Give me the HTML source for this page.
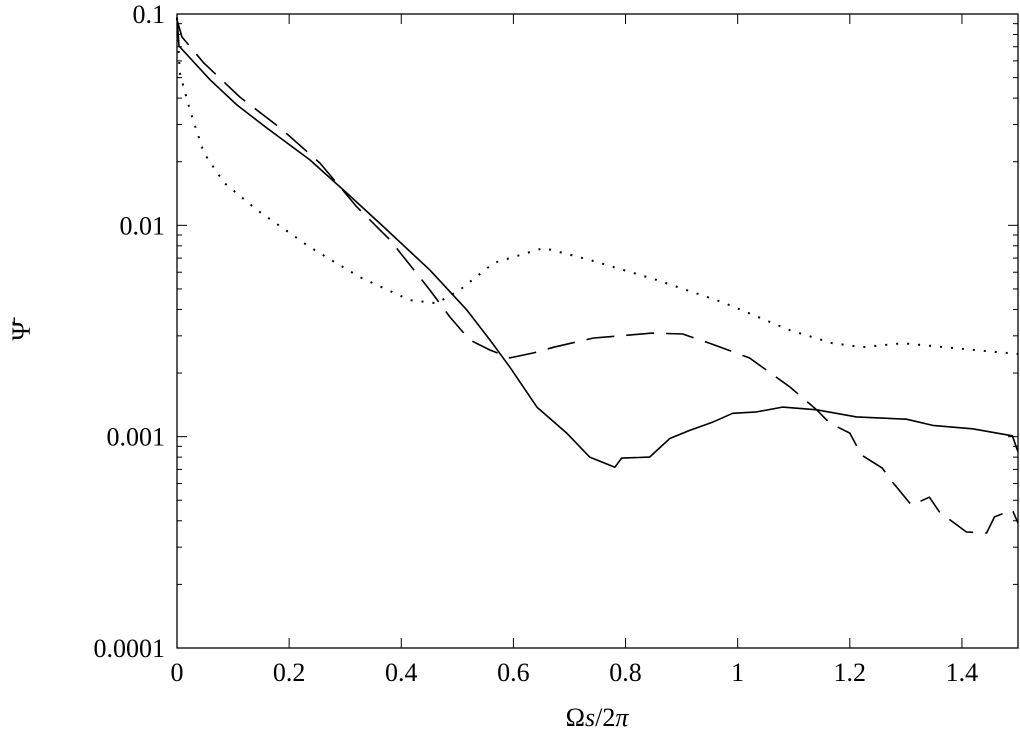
<!DOCTYPE html>
<html><head><meta charset="utf-8"><style>
body{margin:0;background:#fff;}
svg{display:block;font-family:"Liberation Serif",serif;}
</style></head><body>
<svg id="chart" width="1020" height="745" viewBox="0 0 1020 745">
<g id="axes"></g>
<g id="series"></g>
<text x="597" y="726" font-size="26" text-anchor="middle">Ω<tspan font-style="italic">s</tspan>/2<tspan font-style="italic">π</tspan></text>
<text transform="translate(30,331) rotate(-90)" font-size="26" text-anchor="middle">Ψ̄</text>
</svg>
<script>
const xTicks=[0,0.2,0.4,0.6,0.8,1,1.2,1.4];
const xTickLabels=["0","0.2","0.4","0.6","0.8","1","1.2","1.4"];
const yTicks=[0.1,0.01,0.001,0.0001];
const yTickLabels=["0.1","0.01","0.001","0.0001"];
const solidX=[0,0.0036,0.059,0.107,0.160,0.237,0.303,0.369,0.451,0.517,0.558,0.594,0.642,0.695,0.736,0.781,0.793,0.843,0.879,0.914,0.955,0.991,1.034,1.080,1.141,1.212,1.301,1.348,1.419,1.490,1.5];
const solidY=[0.0968,0.0706,0.0488,0.0371,0.0289,0.0204,0.0142,0.00981,0.00614,0.00397,0.00287,0.00213,0.00138,0.00104,0.0008,0.000717,0.000792,0.0008,0.00098,0.00107,0.00117,0.00129,0.00131,0.00138,0.00134,0.00124,0.00121,0.00113,0.00109,0.00101,0.000847];
const dashX=[0,0.009,0.048,0.112,0.184,0.255,0.321,0.380,0.451,0.487,0.522,0.558,0.594,0.636,0.672,0.743,0.848,0.902,0.95,1.021,1.093,1.141,1.164,1.2,1.221,1.258,1.276,1.310,1.342,1.36,1.408,1.444,1.458,1.490,1.5];
const dashY=[0.0937,0.0778,0.0586,0.0405,0.0289,0.0197,0.0122,0.00852,0.00494,0.00368,0.00287,0.00257,0.00236,0.00249,0.00265,0.00293,0.00309,0.00306,0.00277,0.00236,0.00172,0.00134,0.00116,0.00104,0.000818,0.00071,0.00061,0.000474,0.000517,0.00044,0.000354,0.00035,0.000417,0.00045,0.00039];
const dotX=[0,0.005,0.023,0.048,0.084,0.143,0.237,0.326,0.415,0.463,0.504,0.565,0.654,0.736,0.856,0.973,1.093,1.169,1.223,1.294,1.390,1.5];
const dotY=[0.0957,0.0526,0.0351,0.022,0.0159,0.0118,0.00788,0.00569,0.00443,0.00428,0.00494,0.00664,0.00781,0.00686,0.00551,0.00433,0.00319,0.00277,0.00265,0.00277,0.00262,0.00246];
const L=177,R=1018,T=14,B=648;
function sx(v){return L+(v/1.5)*(R-L);}
function sy(v){return T+(-1-Math.log10(v))/3*(B-T);}
const NS="http://www.w3.org/2000/svg";
const axes=document.getElementById('axes');
function mk(tag,attrs,parent){const e=document.createElementNS(NS,tag);for(const k in attrs)e.setAttribute(k,attrs[k]);parent.appendChild(e);return e;}
const frame=mk('rect',{x:L,y:T,width:R-L,height:B-T,fill:'none',stroke:'#000','stroke-width':1.3},axes);


xTicks.forEach((t,i)=>{
  const x=sx(t);
  const a=mk('line',{x1:x,x2:x,y1:B,y2:B-10,stroke:'#000','stroke-width':1},axes);
  
  
  const b=mk('line',{x1:x,x2:x,y1:T,y2:T+10,stroke:'#000','stroke-width':1},axes);
  
  
  const tx=mk('text',{x:x,y:B+33,'font-size':26,'text-anchor':'middle'},axes);
  tx.textContent=xTickLabels[i];
  
  
});
yTicks.forEach((t,i)=>{
  const y=sy(t);
  const a=mk('line',{x1:L,x2:L+10,y1:y,y2:y,stroke:'#000','stroke-width':1},axes);
  
  
  const b=mk('line',{x1:R,x2:R-10,y1:y,y2:y,stroke:'#000','stroke-width':1},axes);
  
  
  const tx=mk('text',{x:L-12,y:y+9,'font-size':26,'text-anchor':'end'},axes);
  tx.textContent=yTickLabels[i];
  
  
  if(i<yTicks.length-1){
    for(let m=2;m<=9;m++){
      const yy=sy(t/10*m);
      const c=mk('line',{x1:L,x2:L+5,y1:yy,y2:yy,stroke:'#000','stroke-width':1},axes);
      
      
      const d=mk('line',{x1:R,x2:R-5,y1:yy,y2:yy,stroke:'#000','stroke-width':1},axes);
      
      
    }
  }
});
const ser=document.getElementById('series');
function line(xs,ys,dash,w){
  const d=xs.map((x,i)=>(i?'L':'M')+sx(x).toFixed(1)+','+sy(ys[i]).toFixed(1)).join(' ');
  return mk('path',{d:d,fill:'none',stroke:'#000','stroke-width':w,'stroke-dasharray':dash,'stroke-linejoin':'round'},ser);
}
const p1=line(solidX,solidY,'none',1.6);


const p2=line(dashX,dashY,'28,12',1.6);


const p3=line(dotX,dotY,'2,9',2);


</script>
</body></html>
